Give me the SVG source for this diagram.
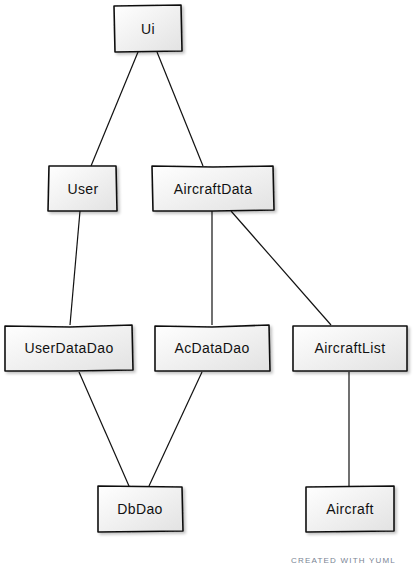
<svg xmlns="http://www.w3.org/2000/svg" width="413" height="575" viewBox="0 0 413 575">
<defs>
<linearGradient id="g" x1="0" y1="0" x2="1" y2="1">
<stop offset="0" stop-color="#ffffff"/>
<stop offset="1" stop-color="#e2e2e2"/>
</linearGradient>
<filter id="sh" x="-10%" y="-10%" width="130%" height="140%">
<feGaussianBlur in="SourceAlpha" stdDeviation="1.5"/>
<feOffset dx="2" dy="2" result="b"/>
<feComponentTransfer><feFuncA type="linear" slope="0.25"/></feComponentTransfer>
<feMerge><feMergeNode/><feMergeNode in="SourceGraphic"/></feMerge>
</filter>
</defs>
<style>
.box{fill:url(#g);stroke:#111;stroke-width:1.6;stroke-linejoin:round;filter:url(#sh)}
.lbl{font-family:"Liberation Sans",Arial,sans-serif;font-size:14px;letter-spacing:0.4px;fill:#111;text-anchor:middle}
.edge{stroke:#111;stroke-width:1.2;fill:none}
.wm{font-family:"Liberation Sans",Arial,sans-serif;font-size:8px;fill:#7a8494;letter-spacing:1.2px}
</style>
<rect width="413" height="575" fill="#fff"/>
<g id="connectors">
<path class="edge" d="M138,52 L91,166"/>
<path class="edge" d="M157,52 L203,166"/>
<path class="edge" d="M80,211 L70,325"/>
<path class="edge" d="M212,211 L212,325"/>
<path class="edge" d="M231,211 L331,325"/>
<path class="edge" d="M79,372 L129,486"/>
<path class="edge" d="M202,372 L149,486"/>
<path class="edge" d="M349,372 L349,486"/>
</g>
<g id="Ui">
<path class="box" d="M114,6 L181,5 L182,51 L115,52 Z"/>
<text class="lbl" x="148" y="34">Ui</text>
</g>
<g id="User">
<path class="box" d="M49,166 L116,166 L117,211 L48,211 Z"/>
<text class="lbl" x="83" y="194">User</text>
</g>
<g id="AircraftData">
<path class="box" d="M152,166 L213,167 L273,166 L274,210 L213,211 L153,211 Z"/>
<text class="lbl" x="213" y="194">AircraftData</text>
</g>
<g id="UserDataDao">
<path class="box" d="M5,326 L70,327 L132,325 L133,370 L70,371 L5,371 Z"/>
<text class="lbl" x="69" y="353">UserDataDao</text>
</g>
<g id="AcDataDao">
<path class="box" d="M155,326 L212,327 L269,325 L270,371 L212,371 L155,371 Z"/>
<text class="lbl" x="212" y="353">AcDataDao</text>
</g>
<g id="AircraftList">
<path class="box" d="M293,326 L350,326 L407,326 L407,371 L350,371 L293,371 Z"/>
<text class="lbl" x="350" y="353">AircraftList</text>
</g>
<g id="DbDao">
<path class="box" d="M98,486 L182,487 L183,531 L98,532 Z"/>
<text class="lbl" x="140" y="514">DbDao</text>
</g>
<g id="Aircraft">
<path class="box" d="M306,487 L394,486 L394,531 L306,532 Z"/>
<text class="lbl" x="350" y="514">Aircraft</text>
</g>
<text class="wm" x="291" y="563">CREATED WITH YUML</text>
</svg>
